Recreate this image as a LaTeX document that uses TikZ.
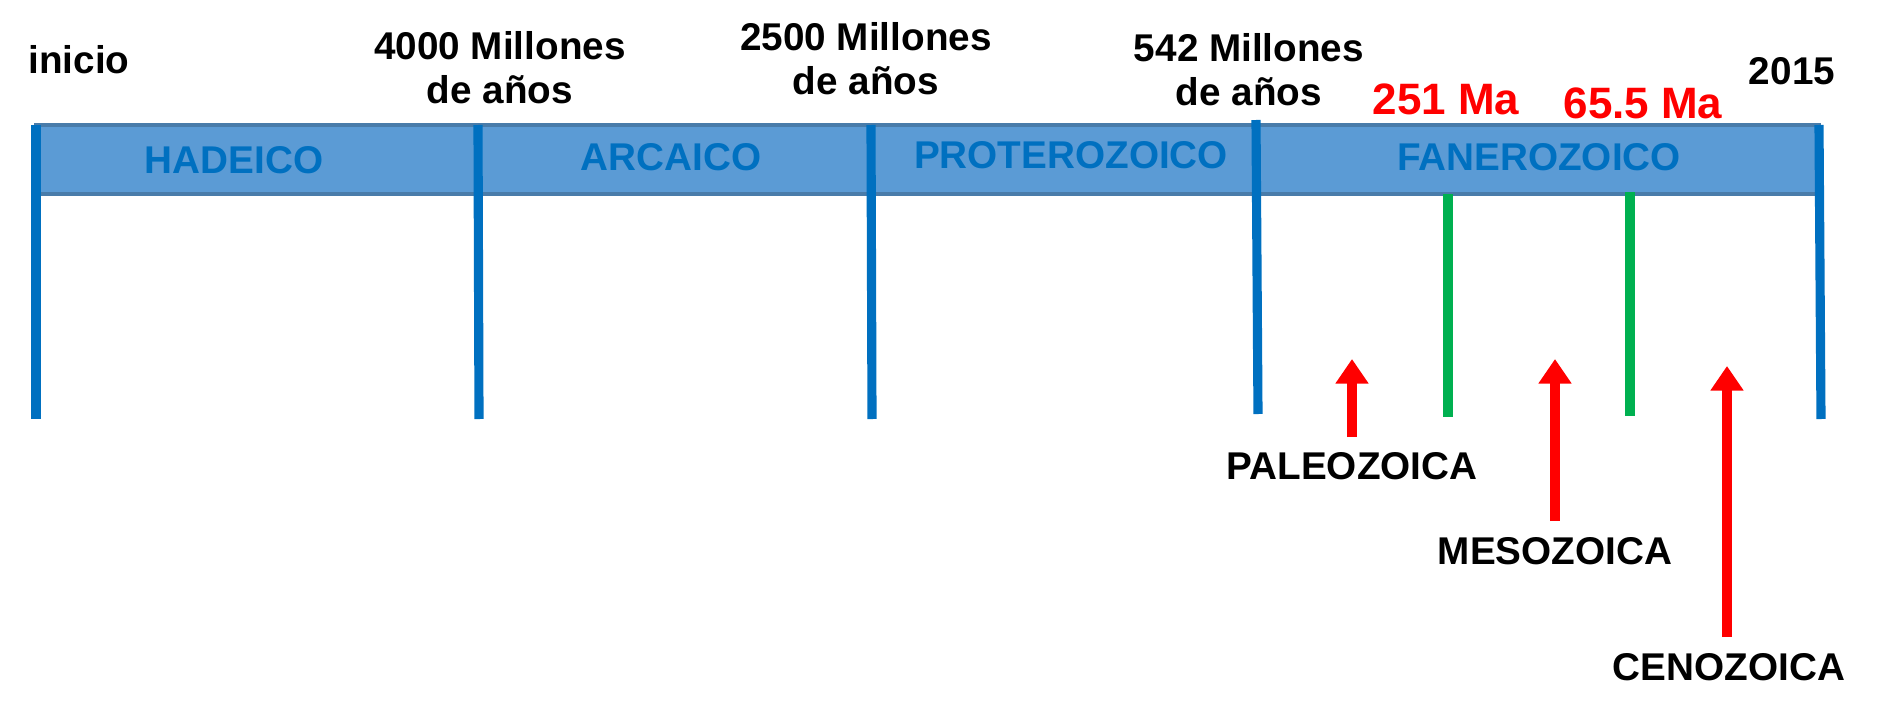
\documentclass[tikz,border=0pt]{standalone}
\usepackage{fontspec}
\setmainfont{Liberation Sans}
\usetikzlibrary{arrows.meta}
\definecolor{barfill}{HTML}{5B9BD5}
\definecolor{eonblue}{HTML}{0070C0}
\definecolor{eragreen}{HTML}{00B050}
\tikzset{
  eon/.style={font=\bfseries\fontsize{11}{11}\selectfont,text=eonblue},
  date/.style={font=\bfseries\fontsize{11}{12.5}\selectfont,align=center},
  era/.style={font=\bfseries\fontsize{11}{11}\selectfont},
  ma/.style={font=\bfseries\fontsize{12.5}{12.5}\selectfont,text=red},
  divider/.style={line width=2.6pt,eonblue},
  boundary/.style={line width=2.6pt,eragreen},
  pointer/.style={line width=2.6pt,red,-{Triangle[length=7pt,width=9pt]}}
}
\begin{document}
\begin{tikzpicture}[x=0.01cm,y=-0.01cm]
\useasboundingbox (0,0) rectangle (1878,715);
\fill[barfill] (34,125) rectangle (1821,194);
\draw[line width=1pt,barfill!80!black] (34,125) -- (1821,125) (34,194) -- (1821,194);
% dividers
\coordinate (d1t) at (36,125);   \coordinate (d1b) at (36,419);
\coordinate (d2t) at (478,125);  \coordinate (d2b) at (479,419);
\coordinate (d3t) at (871,125);  \coordinate (d3b) at (872,419);
\coordinate (d4t) at (1256,120); \coordinate (d4b) at (1258,414);
\coordinate (d5t) at (1819,125); \coordinate (d5b) at (1821,419);
\foreach \d in {d1,d2,d3,d4,d5}
  \draw[divider] (\d t) -- (\d b);
\coordinate (g1t) at (1448,194); \coordinate (g1b) at (1448,417);
\coordinate (g2t) at (1630,192); \coordinate (g2b) at (1630,416);
\draw[boundary] (g1t) -- (g1b);
\draw[boundary] (g2t) -- (g2b);
% eons
\node (hadeico) [eon] at (234,160) {HADEICO};
\node (arcaico) [eon] at (671,157) {ARCAICO};
\node (protero) [eon] at (1071,155) {PROTEROZOICO};
\node (fanero)  [eon] at (1539,157) {FANEROZOICO};
% dates
\node (inicio) [date] at (79,60) {inicio};
\node (m4000)  [date] at (500,68) {4000 Millones\\de años};
\node (m2500)  [date] at (866,59) {2500 Millones\\de años};
\node (m542)   [date] at (1249,70) {542 Millones\\de años};
\node (y2015)  [date] at (1792,71) {2015};
\node (ma251)  [ma] at (1446,99) {251 Ma};
\node (ma65)   [ma] at (1643,103) {65.5 Ma};
% eras
\node (paleo) [era] at (1352,466) {PALEOZOICA};
\node (meso)  [era] at (1555,551) {MESOZOICA};
\node (ceno)  [era] at (1729,667) {CENOZOICA};
\coordinate (paleotip) at (1352,359);
\coordinate (mesotip)  at (1555,359);
\coordinate (cenotip)  at (1727,366);
\draw[pointer] (1352,437) -- (paleotip);
\draw[pointer] (1555,521) -- (mesotip);
\draw[pointer] (1727,637) -- (cenotip);
\end{tikzpicture}
\end{document}
